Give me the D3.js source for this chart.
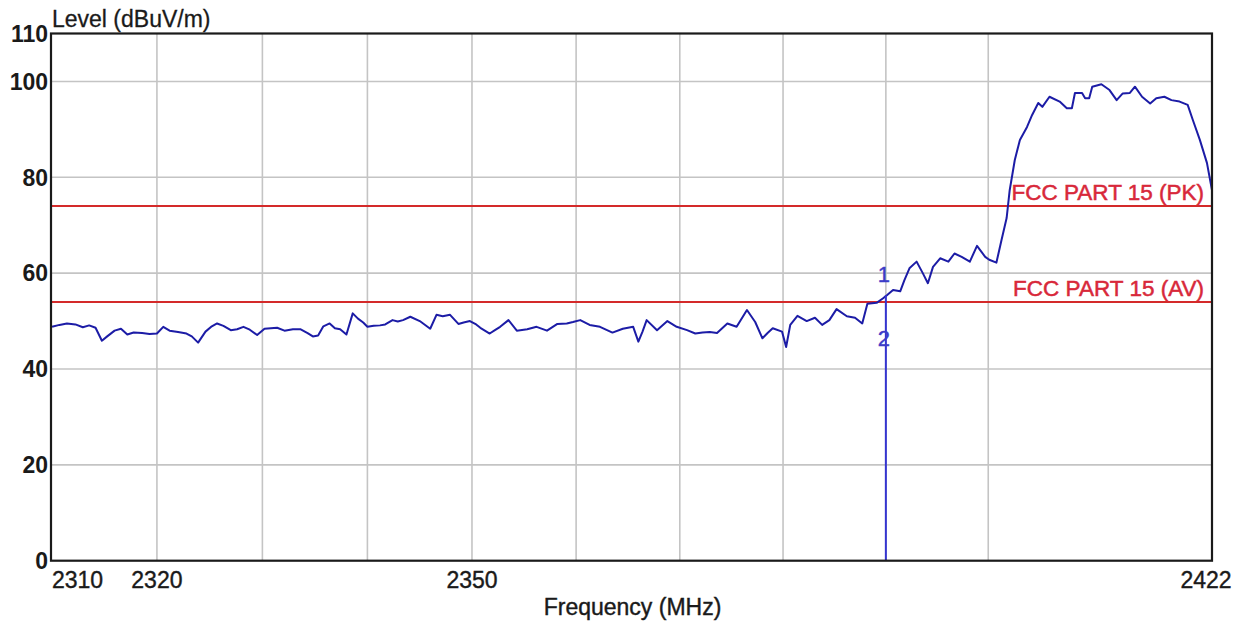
<!DOCTYPE html>
<html>
<head>
<meta charset="utf-8">
<script src="https://cdn.jsdelivr.net/npm/d3@7"></script>
<style>
  html, body { margin: 0; padding: 0; background: #fff; }
  svg { display: block; }
  text { font-family: "Liberation Sans", Arial, sans-serif; }
</style>
</head>
<body>
<svg id="chart" width="1248" height="624"></svg>
<script>
// ---- data ----
const freqs = [
  2310.1, 2310.8, 2311.5, 2312.3, 2313.0, 2313.6, 2314.2, 2314.8, 2315.3, 2316.0,
  2316.6, 2317.2, 2317.8, 2318.6, 2319.3, 2320.0, 2320.6, 2321.2, 2322.0, 2322.8,
  2323.3, 2323.9, 2324.6, 2325.2, 2325.7, 2326.3, 2327.0, 2327.6, 2328.2, 2328.8,
  2329.5, 2330.2, 2330.8, 2331.4, 2332.1, 2332.9, 2333.6, 2334.3, 2334.8, 2335.3,
  2335.8, 2336.4, 2336.9, 2337.4, 2338.0, 2338.6, 2339.1, 2339.6, 2340.0, 2340.6,
  2341.2, 2341.7, 2342.4, 2342.9, 2343.4,
  2344.1, 2345.0, 2346.0, 2346.6, 2347.2, 2347.9, 2348.7, 2349.2, 2349.8, 2350.4,
  2350.8, 2351.7, 2352.2, 2352.7, 2353.5, 2354.3, 2355.3, 2356.2, 2357.2, 2358.2,
  2359.1, 2359.7, 2360.4, 2361.3, 2362.3, 2363.5, 2364.5, 2365.5, 2366.0, 2366.4,
  2366.8, 2367.8, 2368.8, 2369.7, 2370.7, 2371.5, 2372.2, 2372.9, 2373.6, 2374.6,
  2375.5, 2376.5, 2377.3, 2378.0, 2378.5, 2379.0, 2379.9, 2380.3, 2380.7, 2381.4,
  2382.3, 2383.1, 2383.8, 2384.5, 2385.2, 2386.2, 2387.0, 2387.7, 2388.2, 2389.1,
  2389.7, 2390.1, 2390.7, 2391.4, 2391.8, 2392.3, 2393.0, 2393.6, 2394.1, 2394.6,
  2395.3, 2396.1, 2396.7, 2397.4, 2398.2, 2398.9, 2399.7, 2400.1, 2400.8, 2401.3,
  2401.8, 2402.1, 2402.6, 2403.1, 2403.8, 2404.3, 2404.9, 2405.3, 2406.0, 2407.0,
  2407.7, 2408.2, 2408.5, 2409.2, 2409.5, 2409.9, 2410.2, 2411.1, 2411.9, 2412.6,
  2413.2, 2413.9, 2414.4, 2415.1, 2415.9, 2416.5, 2417.3, 2418.0, 2418.8, 2419.6,
  2420.1, 2420.8, 2421.5, 2422.0
];
const levels = [
  48.8, 49.2, 49.5, 49.3, 48.7, 49.1, 48.6, 45.9, 46.8, 48.0,
  48.4, 47.2, 47.6, 47.5, 47.3, 47.4, 48.8, 48.0, 47.7, 47.4,
  46.8, 45.5, 47.8, 48.9, 49.5, 49.0, 48.1, 48.3, 48.8, 48.2,
  47.1, 48.4, 48.5, 48.6, 48.0, 48.3, 48.3, 47.5, 46.8, 47.0,
  48.9, 49.5, 48.5, 48.3, 47.2, 51.6, 50.5, 49.7, 48.8, 49.0,
  49.1, 49.3, 50.2, 49.9, 50.2,
  50.9, 50.0, 48.4, 51.3, 51.0, 51.3, 49.4, 49.7, 50.0, 49.3,
  48.6, 47.4, 48.1, 48.8, 50.2, 48.0, 48.3, 48.8, 48.0, 49.4,
  49.5, 49.8, 50.2, 49.2, 48.8, 47.6, 48.4, 48.8, 45.7, 47.8,
  50.2, 48.1, 50.0, 48.8, 48.1, 47.4, 47.6, 47.7, 47.5, 49.5,
  48.8, 52.3, 49.8, 46.4, 47.5, 48.5, 47.8, 44.6, 49.2, 51.1,
  50.0, 50.7, 49.2, 50.2, 52.5, 51.0, 50.7, 49.5, 53.6, 53.8,
  54.7, 55.4, 56.5, 56.2, 58.5, 61.0, 62.4, 60.0, 57.9, 61.3,
  63.1, 62.4, 64.1, 63.4, 62.4, 65.7, 63.4, 62.8, 62.2, 66.9,
  71.5, 77.3, 83.6, 87.8, 90.5, 93.0, 95.5, 94.7, 96.8, 95.8,
  94.4, 94.4, 97.6, 97.6, 96.5, 96.5, 98.9, 99.4, 98.2, 96.1,
  97.5, 97.6, 98.9, 96.8, 95.4, 96.5, 96.8, 96.1, 95.8, 95.1,
  92.0, 87.8, 83.0, 77.3
];
const limitNames = ["FCC PART 15 (PK)", "FCC PART 15 (AV)"];
const limitValues = [74, 54];
const markerLabels = ["1", "2"];
const markerFreq = 2390;
const markerLevel = 55.4;
const xTickValues = [2310, 2320, 2350, 2422];
const xGridValues = [2320, 2330, 2340, 2350, 2360, 2370, 2380, 2390, 2400];
const yTickValues = [0, 20, 40, 60, 80, 100, 110];
const yGridValues = [20, 40, 60, 80, 100];
const xDomain = [2310, 2422];
const yDomain = [0, 110];
const yTitle = "Level (dBuV/m)";
const xTitle = "Frequency (MHz)";

// ---- layout ----
const L = 51, R = 1212, T = 33.5, B = 560.7;
const svg = d3.select("#chart");
const x = d3.scaleLog().domain(xDomain).range([L, R]);
const y = d3.scaleLinear().domain(yDomain).range([B, T]);

// grid
svg.append("g").selectAll("line").data(xGridValues).join("line")
  .attr("x1", d => x(d)).attr("x2", d => x(d))
  .attr("y1", T).attr("y2", B)
  .attr("stroke", "#c4c4c4").attr("stroke-width", 1.6);
svg.append("g").selectAll("line").data(yGridValues).join("line")
  .attr("x1", L).attr("x2", R)
  .attr("y1", d => y(d)).attr("y2", d => y(d))
  .attr("stroke", "#c4c4c4").attr("stroke-width", 1.6);

// limit lines
limitValues.forEach((v, i) => {
  svg.append("line")
    .attr("x1", L).attr("x2", R).attr("y1", y(v)).attr("y2", y(v))
    .attr("stroke", "#d42a2a").attr("stroke-width", 2);
});

// trace
const pts = freqs.map((f, i) => [f, levels[i]]);
const line = d3.line().x(d => x(d[0])).y(d => y(d[1]));
svg.append("path").datum(pts)
  .attr("d", line)
  .attr("fill", "none")
  .attr("stroke", "#1c1ca6")
  .attr("stroke-width", 2)
  .attr("stroke-linejoin", "round");

// marker vertical line
svg.append("line")
  .attr("x1", x(markerFreq)).attr("x2", x(markerFreq))
  .attr("y1", y(markerLevel)).attr("y2", y(0))
  .attr("stroke", "#3434d0").attr("stroke-width", 2);

// limit labels (drawn after trace)
limitValues.forEach((v, i) => {
  svg.append("text")
    .attr("x", R - 8).attr("y", y(v) - 6)
    .attr("text-anchor", "end")
    .attr("font-size", 22.5)
    .attr("fill", "#d8283a")
    .attr("stroke", "#d8283a").attr("stroke-width", 0.5)
    .text(limitNames[i]);
});

// marker labels
svg.append("text")
  .attr("x", x(markerFreq) - 2).attr("y", y(markerLevel) - 13)
  .attr("text-anchor", "middle").attr("font-size", 22)
  .attr("fill", "#3c3cc8").attr("stroke", "#3c3cc8").attr("stroke-width", 0.4)
  .text(markerLabels[0]);
svg.append("text")
  .attr("x", x(markerFreq) - 2).attr("y", y(markerLevel) + 51)
  .attr("text-anchor", "middle").attr("font-size", 22)
  .attr("fill", "#3c3cc8").attr("stroke", "#3c3cc8").attr("stroke-width", 0.4)
  .text(markerLabels[1]);

// frame
svg.append("rect")
  .attr("x", L).attr("y", T).attr("width", R - L).attr("height", B - T)
  .attr("fill", "none").attr("stroke", "#1a1a1a").attr("stroke-width", 2.2);

// y tick labels
svg.append("g").selectAll("text").data(yTickValues).join("text")
  .attr("x", L - 3).attr("y", d => y(d))
  .attr("dy", "0.36em")
  .attr("text-anchor", "end")
  .attr("font-size", 23).attr("font-weight", "bold")
  .attr("fill", "#1a1a1a")
  .text(d => d);

// x tick labels
svg.append("g").selectAll("text").data(xTickValues).join("text")
  .attr("x", (d, i) => i === 0 ? x(d) + 1 : (i === xTickValues.length - 1 ? x(d) - 6 : x(d)))
  .attr("y", 588)
  .attr("text-anchor", (d, i) => i === 0 ? "start" : "middle")
  .attr("font-size", 23)
  .attr("fill", "#1a1a1a").attr("stroke", "#1a1a1a").attr("stroke-width", 0.4)
  .text(d => d);

// titles
svg.append("text").attr("x", L + 1).attr("y", 27)
  .attr("font-size", 23).attr("fill", "#1a1a1a")
  .attr("stroke", "#1a1a1a").attr("stroke-width", 0.3).text(yTitle);
svg.append("text").attr("x", (L + R) / 2 + 1).attr("y", 615)
  .attr("text-anchor", "middle")
  .attr("font-size", 23).attr("fill", "#1a1a1a")
  .attr("stroke", "#1a1a1a").attr("stroke-width", 0.4).text(xTitle);
</script>
</body>
</html>
